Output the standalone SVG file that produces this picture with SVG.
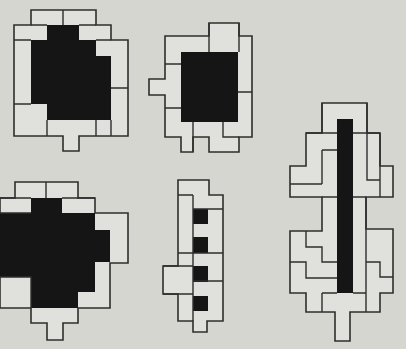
<svg xmlns="http://www.w3.org/2000/svg" width="406" height="349" viewBox="0 0 406 349">
<style>
.bg{fill:#d6d6d1}
.out{fill:#e0e0dc;stroke:#2e2e2e;stroke-width:1.6;stroke-linejoin:miter}
.in{fill:none;stroke:#2e2e2e;stroke-width:1.4}
.blk{fill:#151515}
</style>
<rect class="bg" x="0" y="0" width="406" height="349"/>

<g id="shape1">
<path class="out" d="M31,10 H96 V25 H111 V40 H128 V136 H79 V151 H63 V136 H14 V25 H31 Z"/>
<path class="blk" d="M47,25 H79 V40 H96 V56 H111 V120 H47 V104 H31 V40 H47 Z"/>
<path class="in" d="M63,10 V25 M31,25 H47 M79,25 H96 M14,40 H31 M96,40 H111 M14,104 H31 M47,120 V136 M96,120 V136 M111,88 H128 M111,120 V136"/>
</g>

<g id="shape2">
<path class="out" d="M165,36 H209 V23 H239 V36 H252 V137 H239 V152 H209 V137 H193 V152 H181 V137 H165 V95 H149 V79 H165 Z"/>
<rect class="blk" x="181" y="52" width="57" height="70"/>
<path class="in" d="M209,23 V52 M239,23 V52 M165,64 H181 M165,108 H181 M238,92 H252 M193,122 V152 M223,122 V137 H239"/>
</g>

<g id="shape3">
<path class="out" d="M322,103 H367 V133 H380 V166 H393 V197 H366 V229 H393 V293 H380 V312 H350 V341 H335 V312 H306 V293 H290 V231 H322 V197 H290 V166 H306 V133 H322 Z"/>
<rect class="blk" x="337" y="119" width="16" height="174"/>
<path class="in" d="M306,133 H337 M353,133 H380 M322,103 V133 M367,103 V180 H380 M380,133 V197 M322,150 H337 M322,150 V184 M290,184 H322 M322,197 H337 M353,197 H366 M306,231 V247 H322 V262 H337 M290,262 H306 V278 H337 M366,197 V312 M366,262 H380 V277 H393 M322,293 H337 M353,293 H366 M322,293 V312"/>
</g>

<g id="shape4">
<path class="out" d="M15,182 H78 V198 H95 V213 H128 V263 H110 V308 H78 V323 H63 V340 H47 V323 H31 V308 H0 V198 H15 Z"/>
<path class="blk" d="M31,198 H62 V213 H95 V230 H110 V262 H95 V292 H78 V308 H31 V277 H0 V213 H31 Z"/>
<path class="in" d="M46,182 V198 M0,198 H31 M62,198 H95 M0,213 H31 M0,277 H31 V308"/>
</g>

<g id="shape5">
<path class="out" d="M178,180 H209 V195 H223 V321 H207 V332 H193 V321 H178 V294 H163 V266 H178 Z"/>
<rect class="blk" x="193" y="209" width="15" height="15"/>
<rect class="blk" x="193" y="237" width="15" height="16"/>
<rect class="blk" x="193" y="266" width="15" height="16"/>
<rect class="blk" x="193" y="296" width="15" height="15"/>
<path class="in" d="M178,195 H193 M193,195 V321 M193,209 H223 M178,253 H223 M163,266 H193 M193,281 H223 M163,294 H193"/>
</g>
</svg>
